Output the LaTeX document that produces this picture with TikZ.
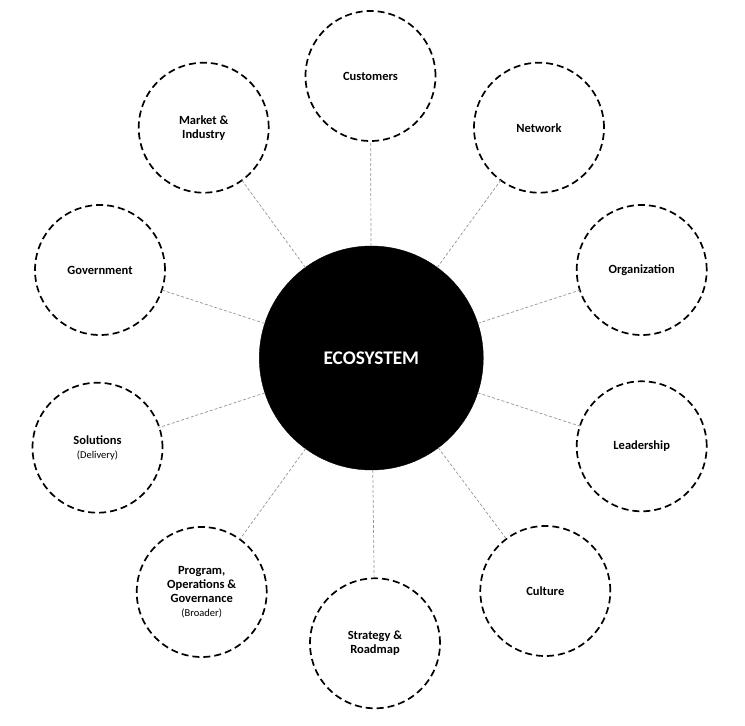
\documentclass[tikz,border=0pt]{standalone}
\usepackage{fontspec}
\setmainfont{Carlito}
\begin{document}
\begin{tikzpicture}[x=1pt,y=-1pt,
  outer/.style={circle,draw=black,line width=1.7pt,dash pattern=on 7pt off 4pt,minimum size=130pt,inner sep=0pt,outer sep=0pt,align=center,font=\fontsize{12.5}{14}\selectfont\bfseries},
  hub/.style={circle,fill=black,draw=black,minimum size=224pt,inner sep=0pt,outer sep=0pt,text=white,font=\fontsize{19.3}{21}\selectfont\bfseries},
  conn/.style={draw=black!42,line width=0.7pt,dash pattern=on 3pt off 2pt}]
\useasboundingbox (0,0) rectangle (745,726);
\node[hub] (eco) at (371.3,358) {ECOSYSTEM};
\node[outer] (cust) at (370.5,76) {Customers};
\node[outer] (net) at (539,127.7) {Network};
\node[outer] (org) at (641.7,270) {Organization};
\node[outer] (lead) at (641.7,446.3) {Leadership};
\node[outer] (cult) at (545.3,591) {Culture};
\node[outer] (strat) at (375,643.3) {Strategy \&\\Roadmap};
\node[outer] (prog) at (201.7,592) {Program,\\Operations \&\\Governance\\{\fontsize{10.5}{12}\selectfont\mdseries (Broader)}};
\node[outer] (sol) at (97.5,447.7) {Solutions\\{\fontsize{10.5}{12}\selectfont\mdseries (Delivery)}};
\node[outer] (gov) at (100,270) {Government};
\node[outer] (mkt) at (203.7,127.7) {Market \&\\Industry};
\foreach \n in {cust,net,org,lead,cult,strat,prog,sol,gov,mkt}
  \draw[conn] (eco) -- (\n);
\end{tikzpicture}
\end{document}
